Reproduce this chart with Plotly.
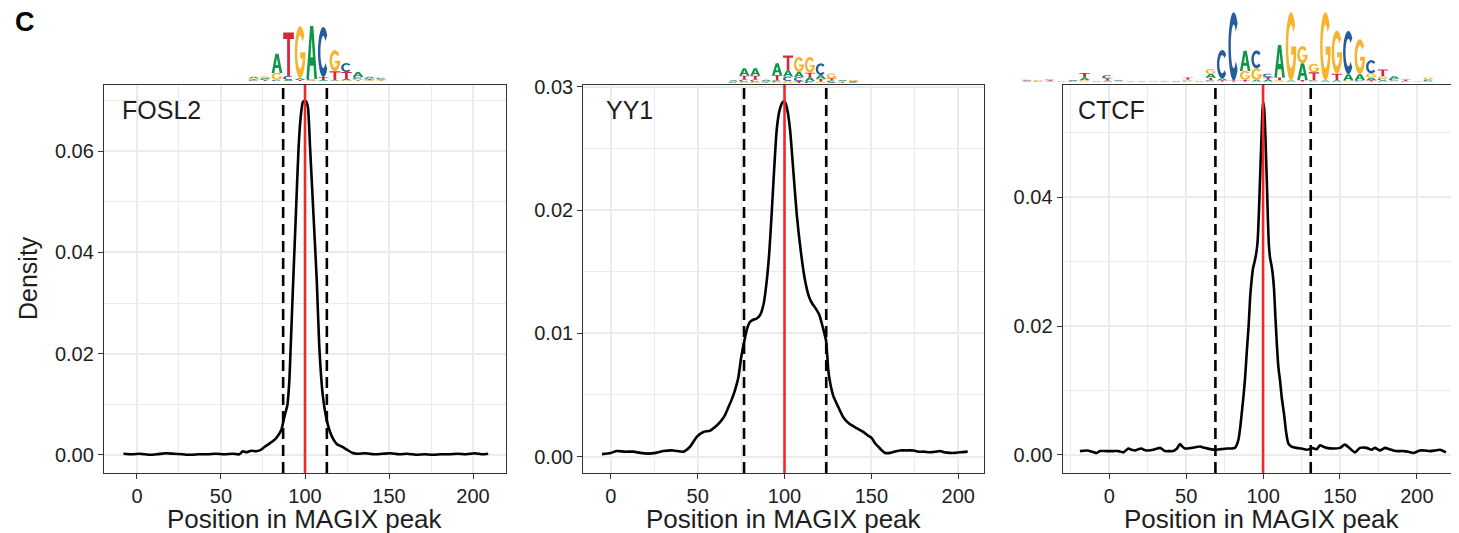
import numpy as np
import plotly.graph_objects as go

# the page is drawn with an 8px body margin, so the figure is 8px smaller
# than the window and all reference pixel positions are shifted by 8px
OFF = 8
W, H = 1459 - OFF, 533 - OFF

# ---------------- data ----------------
fosl2_x = [-8, -3, 2, 7, 12, 17, 22, 27, 32, 37, 42, 47, 52, 57, 61, 63, 65, 68, 71, 74, 76, 78, 80, 82, 84, 86,
           87.5, 88.5, 89.5, 90.7, 91.5, 93, 94.6, 96.2, 97.5, 98.7, 99.7, 100.8, 101.8, 103, 105, 107, 108.5,
           110.5, 112.9, 114.9, 117, 119, 122, 125, 128, 131, 136, 141, 146, 151, 156, 161, 166, 171, 176, 181,
           186, 191, 196, 201, 205, 209]
fosl2_y = [0.0002, 0.0001, 0.0002, 0.0000, 0.0001, 0.0003, 0.0002, 0.0001, 0.0000, 0.0001, 0.0001, 0.0002,
           0.0001, 0.0002, 0.0001, 0.0007, 0.0005, 0.0008, 0.0007, 0.0010, 0.0016, 0.0020, 0.0025, 0.0030,
           0.0038, 0.0050, 0.0072, 0.0085, 0.0098, 0.0148, 0.0214, 0.0345, 0.0477, 0.0609, 0.0670, 0.0697,
           0.0700, 0.0698, 0.0685, 0.0609, 0.0477, 0.0345, 0.0214, 0.0120, 0.0069, 0.0045, 0.0030, 0.0021,
           0.0016, 0.0010, 0.0004, 0.0002, 0.0003, 0.0001, 0.0002, 0.0003, 0.0001, 0.0002, 0.0000, 0.0001,
           0.0000, 0.0001, 0.0001, 0.0002, 0.0001, 0.0003, 0.0001, 0.0002]

yy1_x = [-5, 0, 3.5, 8, 13, 17, 21.5, 26, 30.3, 36, 41.8, 45.6, 49.5, 53.3, 57.1, 60, 62.9, 65.5, 67.7, 69.8,
         71.5, 73.4, 75, 76.9, 78.5, 80, 82, 84, 86, 88, 89.8, 91.2, 92.6, 94, 95.5, 97, 98.3, 99.3, 100.5,
         101.8, 103.2, 105, 107, 109.5, 111.8, 114, 116, 118, 120, 122, 123.9, 125.2, 126.5, 128.1, 131,
         133.8, 137, 141.5, 145.3, 148, 150.2, 152, 154, 156, 157.8, 160.7, 163, 166.5, 170, 174.1, 177, 180,
         184, 187, 189.5, 192, 195.2, 198, 201, 205.4]
yy1_y = [0.0002, 0.0003, 0.00045, 0.0004, 0.0004, 0.0003, 0.00024, 0.0003, 0.00045, 0.0005, 0.0004, 0.0008,
         0.0016, 0.0020, 0.0021, 0.0024, 0.0028, 0.0033, 0.0040, 0.0047, 0.0054, 0.0064, 0.0080, 0.0094,
         0.0104, 0.0109, 0.0111, 0.0112, 0.0115, 0.0124, 0.0143, 0.0165, 0.0197, 0.0232, 0.0265, 0.0280,
         0.0286, 0.0288, 0.0287, 0.0280, 0.0265, 0.0233, 0.0197, 0.0165, 0.0143, 0.0130, 0.0124, 0.0120,
         0.0115, 0.0105, 0.0094, 0.0070, 0.0058, 0.0049, 0.0040, 0.0032, 0.0027, 0.0023, 0.0020, 0.0017,
         0.0015, 0.0011, 0.0008, 0.0005, 0.0003, 0.0003, 0.0004, 0.0005, 0.0005, 0.0005, 0.0004, 0.0004,
         0.00035, 0.0004, 0.00045, 0.00035, 0.0003, 0.0003, 0.00035, 0.0004]

ctcf_x = [-19.1, -14.7, -11, -8.2, -6, -2, 2.6, 6, 9.1, 12.4, 14.5, 16.7, 19, 21, 22.5, 24.3, 28.6, 31, 33,
          36.2, 39, 41.6, 44, 46, 47.5, 49.2, 53.6, 56, 59, 62, 65.5, 69.8, 73, 76.3, 79, 81.7, 83.9, 85,
          86.1, 87.2, 88.2, 89.4, 90.6, 91.6, 92.5, 93.5, 94.5, 95.5, 96.4, 97.2, 97.9, 98.9, 99.5, 100.0,
          100.6, 101.2, 101.9, 102.5, 103.2, 103.8, 104.6, 105.4, 106.3, 107.1, 108, 109, 110, 111, 112.2,
          113.6, 115, 116.4, 118.5, 121.8, 125, 128.3, 130, 131.6, 134.8, 137, 139, 141.3, 145.7, 150, 153.2,
          156.5, 159.7, 163, 167.3, 170.6, 172.7, 176, 179.2, 182, 184.6, 188, 191.1, 194.5, 197.6, 200, 202,
          205, 208.5, 212, 215, 218.9]
ctcf_y = [0.0006, 0.0007, 0.0005, 0.0003, 0.0006, 0.0006, 0.0006, 0.0006, 0.0004, 0.0010, 0.0008, 0.0007,
          0.0009, 0.0010, 0.0008, 0.0007, 0.0008, 0.0010, 0.0011, 0.0006, 0.0006, 0.0006, 0.0010, 0.0017,
          0.0013, 0.0010, 0.0011, 0.0012, 0.0013, 0.0011, 0.0009, 0.0008, 0.0009, 0.0010, 0.0010, 0.0011,
          0.0023, 0.0040, 0.0064, 0.0090, 0.0116, 0.0160, 0.0200, 0.0245, 0.0270, 0.0290, 0.0300, 0.0312,
          0.0330, 0.0370, 0.0420, 0.0488, 0.0530, 0.0547, 0.0540, 0.0515, 0.0465, 0.0420, 0.0360, 0.0325,
          0.0305, 0.0295, 0.0280, 0.0258, 0.0215, 0.0170, 0.0135, 0.0116, 0.0088, 0.0064, 0.0035, 0.0018,
          0.0013, 0.0011, 0.0010, 0.0008, 0.0009, 0.0011, 0.0009, 0.0015, 0.0013, 0.0011, 0.0010, 0.0011,
          0.0016, 0.0010, 0.0004, 0.0011, 0.0011, 0.0008, 0.0011, 0.0007, 0.0011, 0.0009, 0.0007, 0.0006,
          0.0006, 0.0005, 0.0003, 0.0005, 0.0007, 0.0007, 0.0006, 0.0007, 0.0008, 0.0004]

motif_center = 100
fosl2_bounds = [87, 113]
yy1_bounds = [76.7, 124]
ctcf_bounds = [69, 131]

x_ticks = [0, 50, 100, 150, 200]
fosl2_yticks = [0.00, 0.02, 0.04, 0.06]
yy1_yticks = [0.00, 0.01, 0.02, 0.03]
ctcf_yticks = [0.00, 0.02, 0.04]

panel_names = ["FOSL2", "YY1", "CTCF"]

# sequence logos: one stack per position, listed bottom -> top, heights in bits
fosl2_logo = [
    [("C", 0.03), ("T", 0.03), ("G", 0.04), ("A", 0.05)],
    [("T", 0.03), ("C", 0.04), ("A", 0.04), ("G", 0.06)],
    [("C", 0.04), ("G", 0.25), ("A", 0.68)],
    [("A", 0.04), ("C", 0.14), ("T", 1.55)],
    [("T", 0.04), ("A", 0.06), ("G", 1.86)],
    [("G", 0.03), ("C", 0.04), ("A", 1.89)],
    [("A", 0.04), ("T", 0.10), ("C", 1.79)],
    [("A", 0.03), ("T", 0.32), ("G", 0.75)],
    [("G", 0.03), ("A", 0.04), ("T", 0.25), ("C", 0.32)],
    [("T", 0.03), ("G", 0.04), ("C", 0.07), ("A", 0.18)],
    [("G", 0.03), ("T", 0.03), ("C", 0.04), ("A", 0.05)],
    [("T", 0.02), ("G", 0.03), ("A", 0.03), ("C", 0.04)],
]
yy1_logo = [
    [("T", 0.04), ("C", 0.05), ("G", 0.05), ("A", 0.06)],
    [("G", 0.10), ("C", 0.15), ("T", 0.25), ("A", 0.50)],
    [("G", 0.10), ("C", 0.15), ("T", 0.25), ("A", 0.50)],
    [("C", 0.05), ("T", 0.05), ("G", 0.06), ("A", 0.07)],
    [("G", 0.08), ("C", 0.12), ("T", 0.35), ("A", 0.78)],
    [("G", 0.15), ("C", 0.30), ("A", 0.40), ("T", 1.00)],
    [("T", 0.15), ("C", 0.25), ("A", 0.35), ("G", 1.00)],
    [("C", 0.15), ("A", 0.25), ("T", 0.30), ("G", 1.05)],
    [("G", 0.10), ("T", 0.20), ("A", 0.25), ("C", 0.78)],
    [("A", 0.08), ("C", 0.10), ("T", 0.15), ("G", 0.33)],
    [("C", 0.04), ("T", 0.05), ("G", 0.06), ("A", 0.07)],
    [("T", 0.04), ("C", 0.05), ("A", 0.06), ("G", 0.07)],
]
ctcf_logo = [
    [("A", 0.02), ("C", 0.02), ("G", 0.02)],
    [("C", 0.02), ("G", 0.03)],
    [("A", 0.02), ("T", 0.02), ("C", 0.02)],
    [("G", 0.01), ("A", 0.01)],
    [("C", 0.02), ("A", 0.03)],
    [("G", 0.04), ("A", 0.07), ("T", 0.13)],
    [("A", 0.02)],
    [("A", 0.03), ("T", 0.06), ("C", 0.09)],
    [("G", 0.02), ("C", 0.02)],
    [("A", 0.01), ("T", 0.01)],
    [("C", 0.01)],
    [("G", 0.01), ("A", 0.01)],
    [("T", 0.01)],
    [("C", 0.01), ("A", 0.01)],
    [("C", 0.03), ("G", 0.03), ("T", 0.06)],
    [("A", 0.02)],
    [("C", 0.04), ("T", 0.07), ("A", 0.11), ("G", 0.13)],
    [("T", 0.04), ("A", 0.05), ("C", 0.79)],
    [("T", 0.03), ("C", 1.90)],
    [("T", 0.05), ("G", 0.25), ("A", 0.56)],
    [("A", 0.05), ("G", 0.32), ("C", 0.50)],
    [("A", 0.06), ("T", 0.07), ("C", 0.09)],
    [("G", 0.04), ("T", 0.08), ("A", 0.90)],
    [("A", 0.03), ("G", 1.90)],
    [("T", 0.05), ("A", 0.46), ("G", 0.48)],
    [("C", 0.04), ("T", 0.22), ("G", 0.24)],
    [("A", 0.03), ("G", 1.90)],
    [("A", 0.04), ("T", 0.18), ("G", 1.20)],
    [("G", 0.03), ("A", 0.18), ("C", 1.20)],
    [("C", 0.04), ("A", 0.17), ("G", 0.97)],
    [("T", 0.04), ("A", 0.07), ("G", 0.12), ("C", 0.37)],
    [("A", 0.04), ("C", 0.05), ("G", 0.06), ("T", 0.19)],
    [("G", 0.03), ("C", 0.05), ("A", 0.07)],
    [("C", 0.02), ("T", 0.04)],
    [("A", 0.01)],
    [("A", 0.02), ("C", 0.04), ("G", 0.06)],
]

# ---------------- style / layout helpers ----------------
FONT = "Liberation Sans, Arial, Helvetica, sans-serif"
BASE_COLORS = {"A": "#109648", "C": "#255C99", "G": "#F7B32B", "T": "#D62839"}
GRID = "#EBEBEB"
BORDER = "#333333"
TXT = "#1E1E1E"


def px(x):
    return (x - OFF) / W


def py(y):
    return 1 - (y - OFF) / H


def arc(cx, cy, rx, ry, a0, a1, n=30):
    t = np.radians(np.linspace(a0, a1, n))
    return list(zip(cx + rx * np.cos(t), cy + ry * np.sin(t)))


def glyph(letter):
    if letter == "T":
        return [[(0, 1), (1, 1), (1, 0.85), (0.63, 0.85), (0.63, 0), (0.37, 0), (0.37, 0.85), (0, 0.85)]], "nonzero"
    if letter == "A":
        return [[(0, 0), (0.35, 1), (0.65, 1), (1, 0), (0.75, 0), (0.67, 0.25), (0.33, 0.25), (0.25, 0)],
                [(0.39, 0.41), (0.61, 0.41), (0.5, 0.78)]], "evenodd"
    if letter == "C":
        return [arc(0.5, 0.5, 0.5, 0.5, 42, 318) + arc(0.5, 0.5, 0.27, 0.32, 318, 42)], "nonzero"
    # G
    return [arc(0.5, 0.5, 0.5, 0.5, 38, 360) + arc(0.5, 0.5, 0.27, 0.32, 360, 38),
            [(0.52, 0.38), (0.98, 0.38), (0.98, 0.5), (0.52, 0.5)]], "nonzero"


def logo_shapes(cols, xref, yref):
    shapes = []
    for i, stack in enumerate(cols):
        y0 = 0.0
        for letter, h in stack:
            polys, rule = glyph(letter)
            d = ""
            for poly in polys:
                pts = [(i + 0.04 + 0.92 * u, y0 + h * v) for u, v in poly]
                d += "M" + "L".join(f"{a:.4f},{b:.5f}" for a, b in pts) + "Z"
            shapes.append(dict(type="path", path=d, xref=xref, yref=yref, fillcolor=BASE_COLORS[letter],
                               line=dict(width=0), fillrule=rule, layer="above"))
            y0 += h
    return shapes


def minor_vals(ticks, lo, hi):
    step = ticks[1] - ticks[0]
    vals = [t + step / 2 for t in ([ticks[0] - step] + list(ticks))]
    return [v for v in vals if lo <= v <= hi]


# panel geometry (reference pixels): left, right ; axis ranges
panels = [
    dict(name=panel_names[0], x=fosl2_x, y=fosl2_y, bounds=fosl2_bounds, yticks=fosl2_yticks,
         l=104, r=506, xr=[-19.6, 219.6], yr=[-0.0036, 0.0731], lab_x=122, mirror_y=True, title_x=305),
    dict(name=panel_names[1], x=yy1_x, y=yy1_y, bounds=yy1_bounds, yticks=yy1_yticks,
         l=583.3, r=984, xr=[-15.8, 214.8], yr=[-0.00133, 0.03014], lab_x=606, mirror_y=True, title_x=784),
    dict(name=panel_names[2], x=ctcf_x, y=ctcf_y, bounds=ctcf_bounds, yticks=ctcf_yticks,
         l=1062.7, r=1459, xr=[-30.3, 227.4], yr=[-0.0028, 0.0574], lab_x=1078, mirror_y=False, title_x=1262),
]
TOP, BOT = 85, 473

fig = go.Figure()
layout = dict(width=W, height=H, margin=dict(l=0, r=0, t=0, b=0, pad=0, autoexpand=False),
              paper_bgcolor="white", plot_bgcolor="white", showlegend=False,
              font=dict(family=FONT, color=TXT))
shapes = []
annotations = []

for k, p in enumerate(panels):
    n = k + 1
    xa = "x" if n == 1 else f"x{n}"
    ya = "y" if n == 1 else f"y{n}"
    fig.add_trace(go.Scatter(x=p["x"], y=p["y"], mode="lines", xaxis=xa, yaxis=ya,
                             line=dict(color="black", width=2.6, shape="spline", smoothing=0.6),
                             hoverinfo="skip"))
    layout[f"xaxis{'' if n == 1 else n}"] = dict(
        domain=[px(p["l"]), min(1.0, px(p["r"]))], range=p["xr"], anchor=ya, automargin=False,
        tickmode="array", tickvals=x_ticks, ticktext=[str(v) for v in x_ticks],
        ticks="outside", ticklen=5, tickwidth=1.3, tickcolor=BORDER,
        tickfont=dict(size=20, color=TXT, family=FONT),
        showgrid=True, gridcolor=GRID, gridwidth=1.5, zeroline=False,
        minor=dict(tickvals=minor_vals(x_ticks, p["xr"][0], p["xr"][1]), showgrid=True,
                   gridcolor=GRID, gridwidth=0.9, ticks=""),
        showline=True, linecolor=BORDER, linewidth=1.3, mirror=True)
    layout[f"yaxis{'' if n == 1 else n}"] = dict(
        domain=[py(BOT), py(TOP)], range=p["yr"], anchor=xa, automargin=False,
        tickmode="array", tickvals=p["yticks"], ticktext=[f"{v:.2f}" for v in p["yticks"]],
        ticks="outside", ticklen=5, tickwidth=1.3, tickcolor=BORDER,
        tickfont=dict(size=20, color=TXT, family=FONT),
        showgrid=True, gridcolor=GRID, gridwidth=1.5, zeroline=False,
        minor=dict(tickvals=minor_vals(p["yticks"], p["yr"][0], p["yr"][1]), showgrid=True,
                   gridcolor=GRID, gridwidth=0.9, ticks=""),
        showline=True, linecolor=BORDER, linewidth=1.3, mirror=p["mirror_y"])
    for b in p["bounds"]:
        shapes.append(dict(type="line", xref=xa, yref=f"{ya} domain", x0=b, x1=b, y0=0, y1=1,
                           line=dict(color="black", width=2.6, dash="11px,6px"), layer="above"))
    shapes.append(dict(type="line", xref=xa, yref=f"{ya} domain", x0=motif_center, x1=motif_center,
                       y0=0, y1=1, line=dict(color="#F02828", width=2.6), layer="above"))
    annotations.append(dict(text=p["name"], xref="paper", yref="paper", x=px(p["lab_x"] - 2), y=py(110),
                            xanchor="left", yanchor="middle", showarrow=False,
                            font=dict(size=25, color=TXT, family=FONT)))
    annotations.append(dict(text="Position in MAGIX peak", xref="paper", yref="paper",
                            x=px(p["title_x"]), y=py(519), xanchor="center", yanchor="middle",
                            showarrow=False, font=dict(size=26, color=TXT, family=FONT)))

# logos on their own hidden axes
logos = [
    (fosl2_logo, 248, 387, 81, 56),
    (yy1_logo, 728, 859, 83.3, 30),
    (ctcf_logo, 1021.5, 1434.4, 81.7, 72),
]
for j, (cols, l, r, base, hpx) in enumerate(logos):
    n = 4 + j
    fig.add_trace(go.Scatter(x=[], y=[], xaxis=f"x{n}", yaxis=f"y{n}", hoverinfo="skip"))
    layout[f"xaxis{n}"] = dict(domain=[px(l), px(r)], range=[0, len(cols)], visible=False,
                               anchor=f"y{n}", fixedrange=True, automargin=False)
    layout[f"yaxis{n}"] = dict(domain=[py(base), py(base - hpx)], range=[0, 2], visible=False,
                               anchor=f"x{n}", fixedrange=True, automargin=False)
    shapes += logo_shapes(cols, f"x{n}", f"y{n}")

annotations.append(dict(text="Density", xref="paper", yref="paper", x=px(28), y=py(278), textangle=-90,
                        xanchor="center", yanchor="middle", showarrow=False,
                        font=dict(size=25, color=TXT, family=FONT)))
annotations.append(dict(text="<b>C</b>", xref="paper", yref="paper", x=px(25), y=py(22),
                        xanchor="center", yanchor="middle", showarrow=False,
                        font=dict(size=27, color="black", family=FONT)))

layout["shapes"] = shapes
layout["annotations"] = annotations
fig.update_layout(**layout)
fig.write_html("out.html")
